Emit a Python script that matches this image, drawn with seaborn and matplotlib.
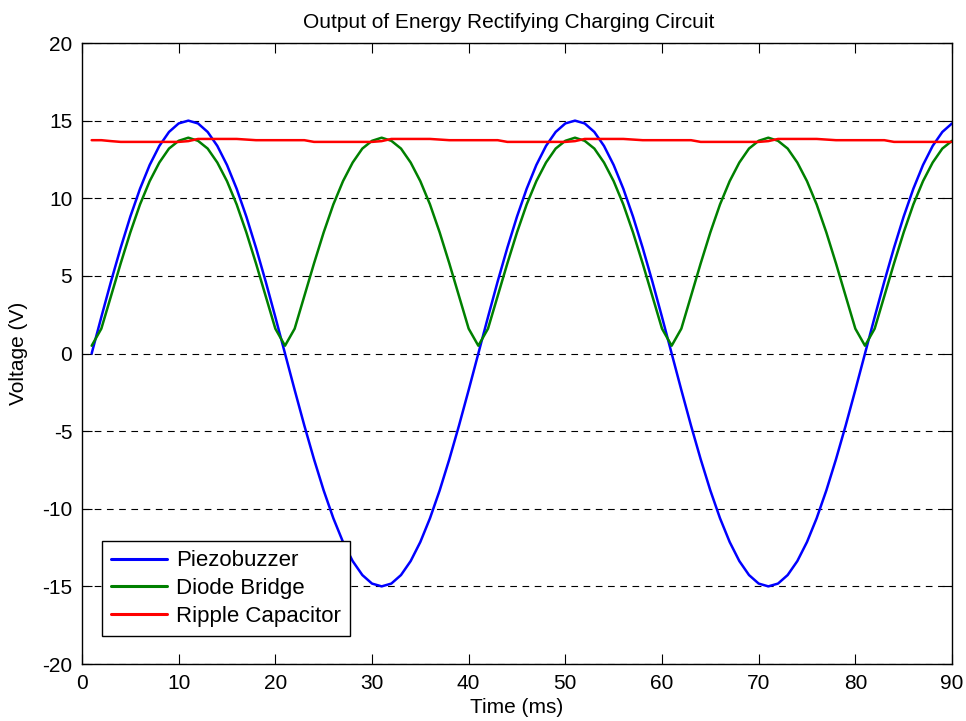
import numpy as np
import pandas as pd
import matplotlib
matplotlib.use("Agg")
import matplotlib.pyplot as plt
import seaborn as sns

# ---- data (t = 1 .. 90 ms) ----
time_ms = list(range(1, 91))

piezobuzzer = [
    0.0, 2.35, 4.64, 6.81, 8.82, 10.61, 12.14, 13.37, 14.27, 14.82,
    15.0, 14.82, 14.27, 13.37, 12.14, 10.61, 8.82, 6.81, 4.64, 2.35,
    0.0, -2.35, -4.64, -6.81, -8.82, -10.61, -12.14, -13.37, -14.27, -14.82,
    -15.0, -14.82, -14.27, -13.37, -12.14, -10.61, -8.82, -6.81, -4.64, -2.35,
    0.0, 2.35, 4.64, 6.81, 8.82, 10.61, 12.14, 13.37, 14.27, 14.82,
    15.0, 14.82, 14.27, 13.37, 12.14, 10.61, 8.82, 6.81, 4.64, 2.35,
    0.0, -2.35, -4.64, -6.81, -8.82, -10.61, -12.14, -13.37, -14.27, -14.82,
    -15.0, -14.82, -14.27, -13.37, -12.14, -10.61, -8.82, -6.81, -4.64, -2.35,
    0.0, 2.35, 4.64, 6.81, 8.82, 10.61, 12.14, 13.37, 14.27, 14.82,
]

diode_bridge = [
    0.5, 1.6, 3.7, 5.8, 7.8, 9.6, 11.1, 12.3, 13.2, 13.7,
    13.9, 13.7, 13.2, 12.3, 11.1, 9.6, 7.8, 5.8, 3.7, 1.6,
    0.5, 1.6, 3.7, 5.8, 7.8, 9.6, 11.1, 12.3, 13.2, 13.7,
    13.9, 13.7, 13.2, 12.3, 11.1, 9.6, 7.8, 5.8, 3.7, 1.6,
    0.5, 1.6, 3.7, 5.8, 7.8, 9.6, 11.1, 12.3, 13.2, 13.7,
    13.9, 13.7, 13.2, 12.3, 11.1, 9.6, 7.8, 5.8, 3.7, 1.6,
    0.5, 1.6, 3.7, 5.8, 7.8, 9.6, 11.1, 12.3, 13.2, 13.7,
    13.9, 13.7, 13.2, 12.3, 11.1, 9.6, 7.8, 5.8, 3.7, 1.6,
    0.5, 1.6, 3.7, 5.8, 7.8, 9.6, 11.1, 12.3, 13.2, 13.7,
]

ripple_capacitor = [
    13.74, 13.74, 13.68, 13.63, 13.63, 13.63, 13.63, 13.63, 13.63, 13.63,
    13.68, 13.82, 13.82, 13.82, 13.82, 13.82, 13.78, 13.74, 13.74, 13.74,
    13.74, 13.74, 13.74, 13.63, 13.63, 13.63, 13.63, 13.63, 13.63, 13.63,
    13.68, 13.82, 13.82, 13.82, 13.82, 13.82, 13.78, 13.74, 13.74, 13.74,
    13.74, 13.74, 13.74, 13.63, 13.63, 13.63, 13.63, 13.63, 13.63, 13.63,
    13.68, 13.82, 13.82, 13.82, 13.82, 13.82, 13.78, 13.74, 13.74, 13.74,
    13.74, 13.74, 13.74, 13.63, 13.63, 13.63, 13.63, 13.63, 13.63, 13.63,
    13.68, 13.82, 13.82, 13.82, 13.82, 13.82, 13.78, 13.74, 13.74, 13.74,
    13.74, 13.74, 13.74, 13.63, 13.63, 13.63, 13.63, 13.63, 13.63, 13.63,
]

series_names = ["Piezobuzzer", "Diode Bridge", "Ripple Capacitor"]
series_colors = ["#0000ff", "#008000", "#ff0000"]
x_ticks = list(range(0, 91, 10))
y_ticks = list(range(-20, 21, 5))

title = "Output of Energy Rectifying Charging Circuit"
xlabel = "Time (ms)"
ylabel = "Voltage (V)"

# ---- build long table ----
df = pd.DataFrame({
    "t": time_ms * 3,
    "v": piezobuzzer + diode_bridge + ripple_capacitor,
    "series": [series_names[0]] * 90 + [series_names[1]] * 90 + [series_names[2]] * 90,
})

sns.set_theme(style="white")
plt.rcParams["font.family"] = ["Liberation Sans", "DejaVu Sans"]
plt.rcParams["axes.unicode_minus"] = False
plt.rcParams["text.color"] = "black"
plt.rcParams["axes.labelcolor"] = "black"

fig = plt.figure(figsize=(9.66, 7.21), dpi=100)
ax = fig.add_axes([82 / 966, 1 - 664 / 721, (952 - 82) / 966, (664 - 43) / 721])

sns.lineplot(data=df, x="t", y="v", hue="series", hue_order=series_names,
             palette=dict(zip(series_names, series_colors)), linewidth=1.8,
             ax=ax, legend=True, estimator=None, sort=False)

ax.set_xlim(0, 90)
ax.set_ylim(-20, 20)
ax.set_xticks(x_ticks)
ax.set_yticks(y_ticks)
ax.tick_params(direction="in", length=7, width=0.8, colors="black",
               labelsize=15, top=True, right=True, bottom=True, left=True, pad=7)
for s in ax.spines.values():
    s.set_color("black")
    s.set_linewidth(1.0)
    s.set_visible(True)

ax.yaxis.grid(True, color="black", linestyle=(0, (6, 5)), linewidth=0.8)
ax.xaxis.grid(False)
ax.set_axisbelow(True)

ax.set_title(title, fontsize=15, pad=11, color="black", x=0.49)
ax.set_xlabel(xlabel, fontsize=15, color="black", labelpad=4)
ax.set_ylabel(ylabel, fontsize=15, color="black", labelpad=10)

leg = ax.legend(loc="lower left", bbox_to_anchor=(0.023, 0.045), borderaxespad=0,
                fontsize=16, frameon=True, fancybox=False, edgecolor="black",
                framealpha=1, handlelength=2.5, handletextpad=0.4,
                borderpad=0.42, labelspacing=0.3)
leg.get_frame().set_linewidth(1.0)
for text in leg.get_texts():
    text.set_color("black")
for line in leg.get_lines():
    line.set_linewidth(2.2)

fig.savefig("out.png", dpi=100, facecolor="white")
